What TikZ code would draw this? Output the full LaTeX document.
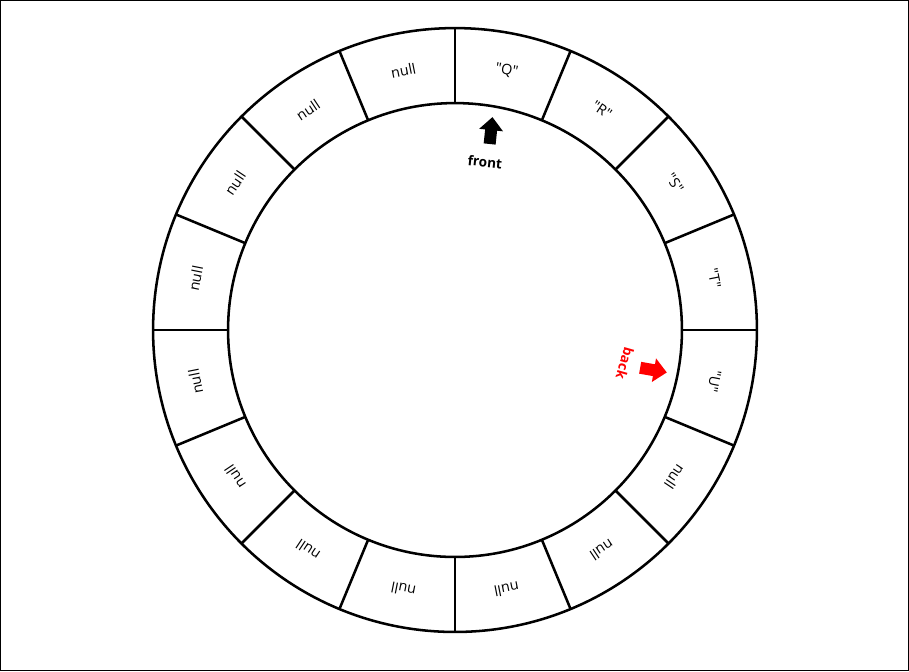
\documentclass[tikz,border=0pt]{standalone}
\usepackage{fontspec}
\setmainfont{Open Sans}[Ligatures=TeXOff]
\begin{document}
\begin{tikzpicture}[x=0.75pt,y=0.75pt,
  ring/.style={line width=1.9pt},
  cell/.style={font=\fontsize{10.8}{12}\selectfont, inner sep=0pt},
  marker/.style={font=\bfseries\fontsize{10.2}{12}\selectfont, inner sep=0pt}]
\draw[line width=0.9pt] (0.5,0.5) rectangle (908.5,670.5);
\useasboundingbox (0,0) rectangle (909,671);
\begin{scope}[shift={(455,341)}]
  \draw[ring] (0,0) circle (302);
  \draw[ring] (0,0) circle (227);
  \foreach \i in {0,...,15}{
    \pgfmathsetmacro{\a}{90-22.5*\i}
    \draw[ring] (\a:227) -- (\a:302);
  }
  \foreach \t [count=\i from 0] in {"Q","R","S","T","U",null,null,null,null,null,null,null,null,null,null,null}{
    \pgfmathsetmacro{\a}{90-11.25-22.5*\i}
    \pgfmathsetmacro{\r}{\a-90}
    \node[cell, rotate=\r] (c\i) at (\a:264.5) {\t};
  }
\end{scope}
% front arrow
\begin{scope}[shift={(491,540)}, rotate=-6]
  \fill (0,14) -- (12,1) -- (6,1) -- (6,-13) -- (-6,-13) -- (-6,1) -- (-12,1) -- cycle;
\end{scope}
\node[marker, rotate=-6] (front) at (485,509) {front};
% back arrow
\begin{scope}[shift={(653,301)}, rotate=-100]
  \fill[red] (0,14) -- (12,1) -- (6,1) -- (6,-13) -- (-6,-13) -- (-6,1) -- (-12,1) -- cycle;
\end{scope}
\node[marker, text=red, rotate=-106] (back) at (625,308) {back};
\end{tikzpicture}
\end{document}
